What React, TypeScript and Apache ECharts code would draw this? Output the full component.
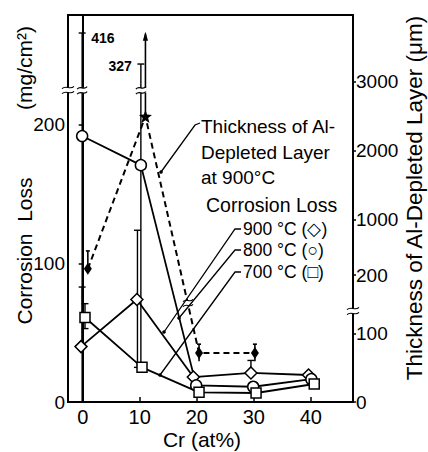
import React, { useEffect, useRef } from 'react';
import * as echarts from 'echarts';

// ---------------- data ----------------
const X_TICKS = [0, 10, 20, 30, 40];
const LEFT_TICKS = [0, 100, 200];
const RIGHT_TICKS = [0, 100, 200, 1000, 2000, 3000];

// Corrosion loss (mg/cm2)
const CR_900 = [-0.3, 9.5, 19.4, 29.5, 39.6];
const LOSS_900 = [40, 74, 18, 21, 19.5];
const CR_800 = [-0.1, 10.2, 19.9, 29.9, 40.1];
const LOSS_800 = [192, 171, 12, 11, 16.5];
const CR_700 = [0.4, 10.4, 20.4, 30.4, 40.6];
const LOSS_700 = [61, 25, 7, 6.5, 13];

// error bars of corrosion loss
const ERR_LOSS_X = [-0.1, -0.1, 0.4, 10.2, 9.6, 29.5];
const ERR_LOSS_LOW = [0, 40, 53, 25, 25, 21];
const ERR_LOSS_HIGH = [416, 83, 71, 327, 124, 30];
const ERR_LOSS_NOTE = ['416', '', '', '327', '', ''];

// Thickness of Al-depleted layer at 900 °C (µm)
const CR_THICK = [0.9, 11.0, 20.4, 30.2];
const THICK = [290, 2500, 72, 72];
const ERR_THICK_LOW = [230, 2500, 60, 60];
const ERR_THICK_HIGH = [550, 3700, 85, 85];
const THICK_OPEN_ENDED = [false, true, false, false];

// ---------------- axis / layout config ----------------
const FONT = 'Liberation Sans, Arial, sans-serif';
const X_MIN = -2.58;
const X_MAX = 47.4;

// left axis: linear up to the break, compressed segment above it
const LEFT_MAX = 279.4;
const LEFT_BREAK = 225;
const LEFT_UP_REF = 327;
const LEFT_UP_POS = 244;
const LEFT_UP_SCALE = 0.2517;
const leftPos = (v: number) =>
  v <= LEFT_BREAK ? v : LEFT_UP_POS + (v - LEFT_UP_REF) * LEFT_UP_SCALE;

// right axis: upper segment in real units, lower segment (0..134) expanded
const RIGHT_MIN = -1640;
const RIGHT_MAX = 3970;
const RIGHT_BREAK = 134;
const RIGHT_LOW_SCALE = 9.86;
const rightPos = (v: number) =>
  v <= RIGHT_BREAK ? RIGHT_MIN + v * RIGHT_LOW_SCALE : v;
const RIGHT_TICK_POS = RIGHT_TICKS.map(rightPos);

const NOTE_SIDE: Record<string, number> = { '416': 1, '327': -1 };
const STAR =
  'path://M12,0 L15,8.5 L24,9 L17,14.5 L19.5,23.5 L12,18.5 L4.5,23.5 L7,14.5 L0,9 L9,8.5 Z';

const BLACK = '#000';

const wave = (cx: number, cy: number, w: number) => ({
  type: 'bezierCurve',
  shape: {
    x1: cx - w, y1: cy + 1.2,
    cpx1: cx - w * 0.3, cpy1: cy - 3,
    cpx2: cx + w * 0.3, cpy2: cy + 3,
    x2: cx + w, y2: cy - 1.2,
  },
  style: { stroke: BLACK, lineWidth: 1.2, fill: 'none' },
  z: 100,
});
const breakMark = (cx: number, cy: number, w = 6) => [
  {
    type: 'rect',
    shape: { x: cx - w - 1, y: cy - 2.5, width: 2 * w + 2, height: 5 },
    style: { fill: '#fff' },
    z: 99,
  },
  wave(cx, cy - 2.5, w),
  wave(cx, cy + 2.5, w),
];

const txt = (
  text: string, x: number, y: number, size: number,
  align = 'left', rotation = 0
) => ({
  type: 'text',
  x, y, rotation, z: 100,
  style: {
    text, fontSize: size, fontFamily: FONT, fill: BLACK,
    align, verticalAlign: 'middle',
  },
});
const leader = (pts: number[][]) => [
  {
    type: 'polyline',
    shape: { points: pts },
    style: { stroke: BLACK, lineWidth: 1.3, fill: 'none' },
    z: 100,
  },
  {
    type: 'circle',
    shape: { cx: pts[pts.length - 1][0], cy: pts[pts.length - 1][1], r: 1.8 },
    style: { fill: BLACK },
    z: 100,
  },
];

const lineStyle = { color: BLACK, width: 1.8 };
const openMarker = { color: '#fff', borderColor: BLACK, borderWidth: 1.5 };

function buildOption() {
  const lossSeries = (name: string, xs: number[], ys: number[], symbol: string, size: any) => ({
    name,
    type: 'line',
    yAxisIndex: 0,
    data: xs.map((x, i) => [x, ys[i]]),
    symbol,
    symbolSize: size,
    showAllSymbol: true,
    lineStyle,
    itemStyle: openMarker,
    z: 6,
  });

  return {
    animation: false,
    backgroundColor: '#fff',
    grid: {
      left: 68, right: 75, top: 15, bottom: 50,
      show: true, borderColor: BLACK, borderWidth: 2,
    },
    xAxis: {
      type: 'value',
      min: X_MIN,
      max: X_MAX,
      axisLine: { show: true, lineStyle: { color: BLACK, width: 2 } },
      axisTick: {
        show: true, inside: true, length: 5, customValues: X_TICKS,
        lineStyle: { color: BLACK, width: 1.5 },
      },
      axisLabel: {
        customValues: X_TICKS, fontSize: 20, color: BLACK,
        fontFamily: FONT, margin: 5,
      },
      splitLine: { show: false },
    },
    yAxis: [
      {
        type: 'value',
        min: 0,
        max: LEFT_MAX,
        position: 'left',
        axisLine: { show: true, lineStyle: { color: BLACK, width: 2 } },
        axisTick: {
          show: true, inside: false, length: 4, customValues: LEFT_TICKS,
          lineStyle: { color: BLACK, width: 1.5 },
        },
        axisLabel: {
          customValues: LEFT_TICKS, fontSize: 19, color: BLACK,
          fontFamily: FONT, margin: 3,
        },
        splitLine: { show: false },
      },
      {
        type: 'value',
        min: RIGHT_MIN,
        max: RIGHT_MAX,
        position: 'right',
        axisLine: { show: true, lineStyle: { color: BLACK, width: 2 } },
        axisTick: {
          show: true, inside: false, length: 3, customValues: RIGHT_TICK_POS,
          lineStyle: { color: BLACK, width: 1.5 },
        },
        axisLabel: {
          customValues: RIGHT_TICK_POS, fontSize: 19, color: BLACK,
          fontFamily: FONT, margin: 3,
          formatter: (val: number) => {
            const i = RIGHT_TICK_POS.findIndex((p) => Math.abs(p - val) < 0.5);
            return i >= 0 ? String(RIGHT_TICKS[i]) : '';
          },
        },
        splitLine: { show: false },
      },
    ],
    series: [
      // corrosion-loss error bars
      {
        type: 'custom',
        yAxisIndex: 0,
        z: 4,
        data: ERR_LOSS_X.map((x, i) => [
          x, leftPos(ERR_LOSS_LOW[i]), leftPos(ERR_LOSS_HIGH[i]),
          ERR_LOSS_HIGH[i] > LEFT_BREAK ? 1 : 0,
        ]),
        renderItem: (params: any, api: any) => {
          const x = api.value(0);
          const a = api.coord([x, api.value(1)]);
          const b = api.coord([x, api.value(2)]);
          const st = { stroke: BLACK, lineWidth: 1.4 };
          const children: any[] = [
            { type: 'line', shape: { x1: a[0], y1: a[1], x2: b[0], y2: b[1] }, style: st },
            { type: 'line', shape: { x1: b[0] - 3.5, y1: b[1], x2: b[0] + 3.5, y2: b[1] }, style: st },
            { type: 'line', shape: { x1: a[0] - 3.5, y1: a[1], x2: a[0] + 3.5, y2: a[1] }, style: st },
          ];
          if (api.value(3)) {
            const c = api.coord([x, LEFT_BREAK]);
            children.push(...breakMark(c[0], c[1], 5));
          }
          const note = ERR_LOSS_NOTE[params.dataIndex];
          if (note) {
            const side = NOTE_SIDE[note] || 1;
            children.push({
              type: 'text',
              x: b[0] + side * 9,
              y: b[1] + (side > 0 ? 5 : 2),
              style: {
                text: note, fontSize: 14, fontWeight: 'bold', fontFamily: FONT,
                fill: BLACK, align: side > 0 ? 'left' : 'right', verticalAlign: 'middle',
              },
            });
          }
          return { type: 'group', children };
        },
      },
      // thickness error bars / arrow
      {
        type: 'custom',
        yAxisIndex: 1,
        z: 3,
        data: CR_THICK.map((x, i) => [
          x, rightPos(ERR_THICK_LOW[i]), rightPos(ERR_THICK_HIGH[i]),
          THICK_OPEN_ENDED[i] ? 1 : 0,
        ]),
        renderItem: (params: any, api: any) => {
          const x = api.value(0);
          const a = api.coord([x, api.value(1)]);
          const b = api.coord([x, api.value(2)]);
          const st = { stroke: BLACK, lineWidth: 1.6 };
          const children: any[] = [
            { type: 'line', shape: { x1: a[0], y1: a[1], x2: b[0], y2: b[1] }, style: st },
          ];
          if (api.value(3)) {
            children.push({
              type: 'polygon',
              shape: { points: [[b[0], b[1] - 2], [b[0] - 2.6, b[1] + 7], [b[0] + 2.6, b[1] + 7]] },
              style: { fill: BLACK },
            });
          } else {
            children.push({
              type: 'line',
              shape: { x1: b[0] - 2, y1: b[1], x2: b[0] + 2, y2: b[1] },
              style: st,
            });
          }
          return { type: 'group', children };
        },
      },
      // thickness of Al-depleted layer (dashed)
      {
        name: 'Thickness of Al-Depleted Layer at 900°C',
        type: 'line',
        yAxisIndex: 1,
        z: 5,
        data: CR_THICK.map((x, i) => ({
          value: [x, rightPos(THICK[i])],
          symbol: THICK_OPEN_ENDED[i] ? STAR : 'diamond',
          symbolSize: THICK_OPEN_ENDED[i] ? 13 : [8, 12],
        })),
        lineStyle: { color: BLACK, width: 2, type: [6, 4] },
        itemStyle: { color: BLACK },
      },
      lossSeries('900 °C', CR_900, LOSS_900, 'diamond', 12),
      lossSeries('800 °C', CR_800, LOSS_800, 'circle', 11),
      lossSeries('700 °C', CR_700, LOSS_700, 'rect', 10),
    ],
    graphic: {
      elements: [
        // axis break marks
        ...breakMark(68, 90, 6),
        ...breakMark(353, 311, 6),
        ...breakMark(188, 303, 5),
        // axis titles
        txt('Corrosion  Loss', 24, 251, 21, 'center', Math.PI / 2),
        txt('(mg/cm²)', 24, 68, 21, 'center', Math.PI / 2),
        txt('Thickness of Al-Depleted Layer (μm)', 414, 198, 22.5, 'center', Math.PI / 2),
        txt('Cr (at%)', 202, 439, 21, 'center'),
        // annotations
        txt('Thickness of Al-', 201, 126, 19),
        txt('Depleted Layer', 201, 152, 19),
        txt('at 900°C', 201, 177, 19),
        txt('Corrosion Loss', 206, 205, 19.5),
        txt('900 °C (◇)', 243, 229, 17.5),
        txt('800 °C (○)', 243, 250, 17.5),
        txt('700 °C (□)', 243, 272, 17.5),
        ...leader([[200, 123], [195, 125], [161, 172]]),
        ...leader([[241, 229], [235, 229], [164, 332]]),
        ...leader([[241, 250], [235, 250], [179, 318]]),
        ...leader([[241, 272], [235, 272], [160, 375]]),
      ],
    },
  };
}

export default function App() {
  const ref = useRef<HTMLDivElement>(null);
  useEffect(() => {
    if (!ref.current) return;
    const chart = echarts.init(ref.current, null, { renderer: 'svg' });
    chart.setOption(buildOption() as any);
    return () => chart.dispose();
  }, []);
  return (
    <div
      ref={ref}
      style={{ position: 'absolute', left: 0, top: 0, width: 428, height: 452, background: '#fff' }}
    />
  );
}
